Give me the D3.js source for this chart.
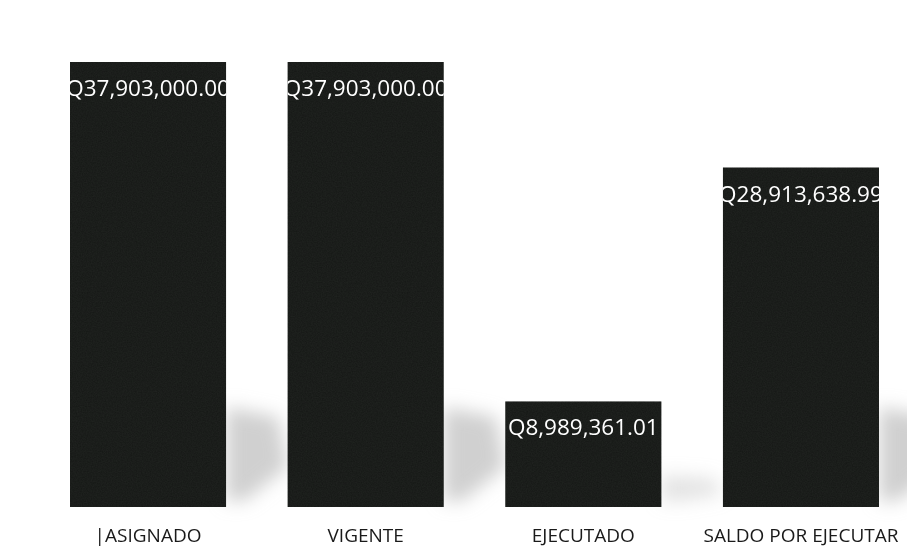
<!DOCTYPE html>
<html>
<head>
<meta charset="utf-8">
<script src="https://cdn.jsdelivr.net/npm/d3@7"></script>
<style>
  html, body { margin: 0; padding: 0; background: #fff; }
  svg { display: block; }
</style>
</head>
<body>
<svg id="chart" width="907" height="548"></svg>
<script>
const categories = ["ASIGNADO", "VIGENTE", "EJECUTADO", "SALDO POR EJECUTAR"];
const axisLabels = ["|ASIGNADO", "VIGENTE", "EJECUTADO", "SALDO POR EJECUTAR"];
const values = [37903000.00, 37903000.00, 8989361.01, 28913638.99];
const valueLabels = ["Q37,903,000.00", "Q37,903,000.00", "Q8,989,361.01", "Q28,913,638.99"];

const svg = d3.select("#chart");

const x = d3.scaleBand().domain(categories).range([70, 879]).paddingInner(0.283).paddingOuter(0);
const y = d3.scaleLinear().domain([0, 37903000]).range([507, 62]);

const defs = svg.append("defs");
const blur = defs.append("filter").attr("id", "shadowBlur")
  .attr("x", "-50%").attr("y", "-50%").attr("width", "200%").attr("height", "200%");
blur.append("feGaussianBlur").attr("stdDeviation", 9);

// grain texture for bars
const grain = defs.append("filter").attr("id", "grain")
  .attr("color-interpolation-filters", "sRGB")
  .attr("x", 0).attr("y", 0).attr("width", "100%").attr("height", "100%");
grain.append("feTurbulence").attr("type", "fractalNoise").attr("baseFrequency", 0.8).attr("numOctaves", 2).attr("seed", 3).attr("result", "noise");
grain.append("feColorMatrix").attr("in", "noise").attr("type", "matrix")
  .attr("values", "0 0 0 0 0.22  0 0 0 0 0.24  0 0 0 0 0.22  0 0 0 0.35 0").attr("result", "tint");
grain.append("feComposite").attr("in", "tint").attr("in2", "SourceGraphic").attr("operator", "in").attr("result", "tg");
grain.append("feMerge").selectAll("feMergeNode").data(["SourceGraphic", "tg"]).join("feMergeNode").attr("in", d => d);

const data = categories.map((c, i) => ({ c, v: values[i], label: valueLabels[i], axis: axisLabels[i], i }));

// shadows
const base = y(0);
svg.append("g").attr("filter", "url(#shadowBlur)")
  .selectAll("path").data(data).join("path")
  .attr("d", d => {
    const xr = x(d.c) + x.bandwidth();
    const h = Math.min(100, (base - y(d.v)) * 0.3);
    const w = x.step() - x.bandwidth();
    const top = base - h;
    return `M${xr},${top} L${xr + w * 0.85},${top + h * 0.1} L${xr + w},${base - h * 0.4} L${xr + w * 0.3},${base - 6} L${xr},${base - 6} Z`;
  })
  .attr("fill", "#c0c0c0")
  .attr("opacity", d => d.i === 2 ? 0.45 : 0.75);

// clip paths for labels
data.forEach(d => {
  defs.append("clipPath").attr("id", "clip" + d.i)
    .append("rect")
    .attr("x", x(d.c)).attr("y", y(d.v))
    .attr("width", x.bandwidth()).attr("height", base - y(d.v));
});

svg.append("g").selectAll("rect").data(data).join("rect")
  .attr("x", d => x(d.c))
  .attr("y", d => y(d.v))
  .attr("width", x.bandwidth())
  .attr("height", d => base - y(d.v))
  .attr("fill", "#151715")
  .attr("filter", "url(#grain)");

svg.append("g").selectAll("text").data(data).join("text")
  .attr("clip-path", d => `url(#clip${d.i})`)
  .attr("x", d => x(d.c) + x.bandwidth() / 2)
  .attr("y", d => y(d.v) + 34)
  .attr("text-anchor", "middle")
  .attr("font-family", "'Open Sans', sans-serif")
  .attr("font-size", 22.5)
  .attr("fill", "#ffffff")
  .text(d => d.label);

// category axis labels
const xAxis = d3.axisBottom(x).tickSize(0).tickFormat((d, i) => axisLabels[i]);
const ax = svg.append("g").attr("transform", `translate(0,${base})`).call(xAxis);
ax.select(".domain").remove();
ax.selectAll("text")
  .attr("dy", 0)
  .attr("y", 35)
  .attr("font-family", "'Open Sans', sans-serif")
  .attr("font-size", 19)
  .attr("fill", "#1a1a1a");
</script>
</body>
</html>
